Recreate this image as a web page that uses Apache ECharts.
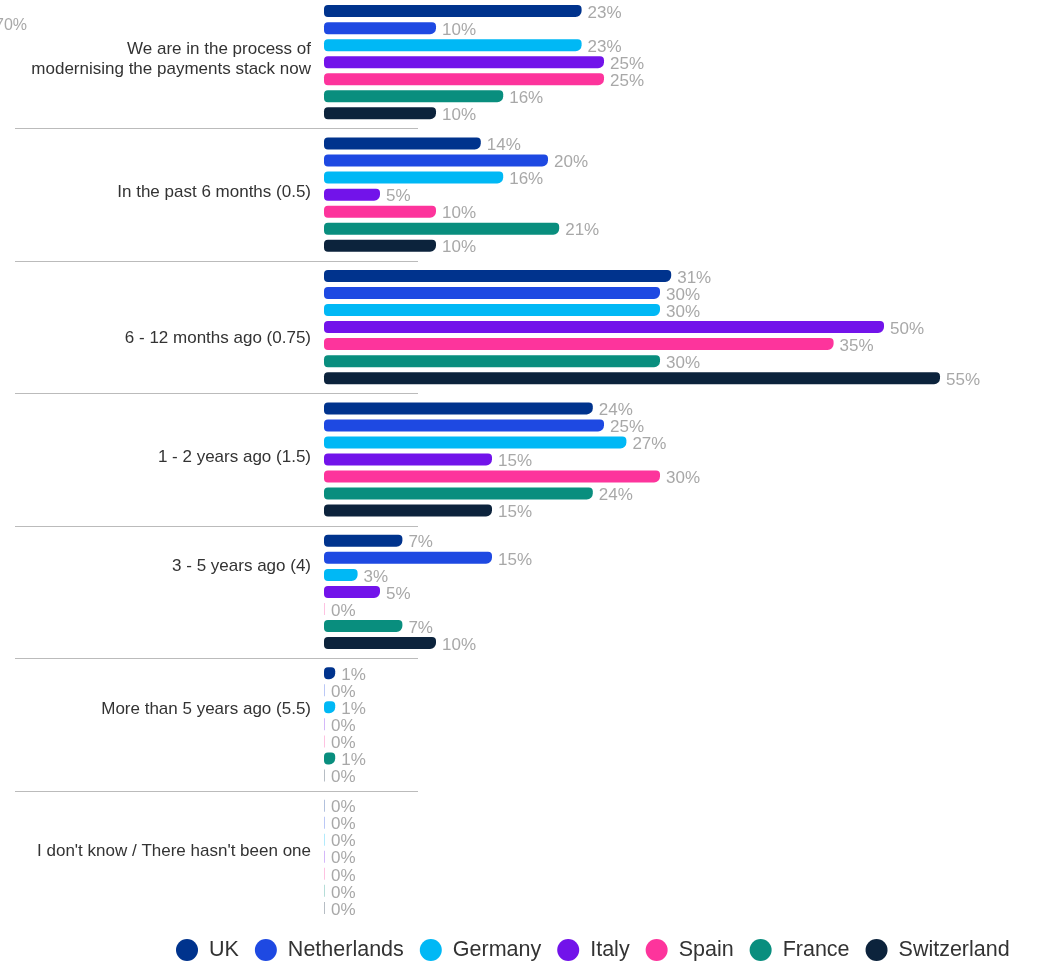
<!DOCTYPE html>
<html>
<head>
<meta charset="utf-8">
<script src="https://cdn.jsdelivr.net/npm/echarts@6/dist/echarts.min.js"></script>
<style>
  html, body { margin: 0; padding: 0; background: #ffffff; }
  #chart { width: 1040px; height: 963px; }
</style>
</head>
<body>
<div id="chart"></div>
<script>
// ---- Data ----
const categories = [
  "We are in the process of\nmodernising the payments stack now",
  "In the past 6 months (0.5)",
  "6 - 12 months ago (0.75)",
  "1 - 2 years ago (1.5)",
  "3 - 5 years ago (4)",
  "More than 5 years ago (5.5)",
  "I don't know / There hasn't been one"
];
const seriesNames = ["UK", "Netherlands", "Germany", "Italy", "Spain", "France", "Switzerland"];
const ukValues          = [23, 14, 31, 24, 7, 1, 0];
const netherlandsValues = [10, 20, 30, 25, 15, 0, 0];
const germanyValues     = [23, 16, 30, 27, 3, 1, 0];
const italyValues       = [25, 5, 50, 15, 5, 0, 0];
// Spain's 6-12 months bar is drawn longer than its printed label in the source
const spainValues       = [25, 10, 45.5, 30, 0, 0, 0];
const spainPrinted      = [25, 10, 35, 30, 0, 0, 0];
const franceValues      = [16, 21, 30, 24, 7, 1, 0];
const switzerlandValues = [10, 10, 55, 15, 10, 0, 0];
const strayAxisLabel = "70%";

const seriesValues = [ukValues, netherlandsValues, germanyValues, italyValues, spainValues, franceValues, switzerlandValues];
const printedValues = [ukValues, netherlandsValues, germanyValues, italyValues, spainPrinted, franceValues, switzerlandValues];

// ---- Styles ----
const colors = ["#00338D", "#1E49E2", "#00B8F5", "#7213EA", "#FD349C", "#098E7E", "#0C233C"];
const FONT = "'Liberation Sans', Arial, sans-serif";
// vertical nudges of the category labels as placed in the source
const labelShift = [-3, -2, 11, -2, -26, -15, -5];

function fade(hex, a) {
  const n = parseInt(hex.slice(1), 16);
  return 'rgba(' + ((n >> 16) & 255) + ',' + ((n >> 8) & 255) + ',' + (n & 255) + ',' + a + ')';
}

const chart = echarts.init(document.getElementById('chart'), null, { renderer: 'canvas' });

const series = seriesNames.map((name, si) => ({
  name: name,
  type: 'bar',
  barWidth: 12,
  barGap: '42%',
  barMinHeight: 1,
  itemStyle: { color: colors[si], borderRadius: [4, 4, 6, 4] },
  label: {
    show: true,
    position: 'right',
    distance: 6,
    offset: [0, 2],
    color: '#A8A8A8',
    fontSize: 17,
    fontFamily: FONT,
    formatter: p => printedValues[si][p.dataIndex] + '%'
  },
  data: seriesValues[si].map(v => v === 0
    ? { value: v, itemStyle: { color: fade(colors[si], 0.3), borderRadius: 0 } }
    : { value: v })
}));

const option = {
  animation: false,
  backgroundColor: '#ffffff',
  color: colors,
  grid: { left: 324, top: -4, width: 672, height: 927, containLabel: false, outerBoundsMode: 'none' },
  xAxis: {
    type: 'value', min: 0, max: 60,
    show: false
  },
  yAxis: {
    type: 'category',
    inverse: true,
    data: categories,
    axisLine: { show: false },
    axisTick: { show: false },
    splitLine: { show: false },
    axisLabel: { show: false }
  },
  legend: {
    data: seriesNames,
    left: 171,
    top: 934,
    icon: 'circle',
    itemWidth: 34,
    itemHeight: 22,
    itemGap: 16,
    textStyle: { color: '#333333', fontSize: 21.5, fontFamily: FONT }
  },
  series: series
};

chart.setOption(option);

// separators and category labels, placed from the category axis scale
const centers = categories.map((c, i) => chart.convertToPixel({ yAxisIndex: 0 }, i));
const gfx = [];
for (let i = 0; i < centers.length - 1; i++) {
  const y = Math.round((centers[i] + centers[i + 1]) / 2) + 0.5;
  gfx.push({
    type: 'line',
    shape: { x1: 15, y1: y, x2: 418, y2: y },
    style: { stroke: '#BBBBBB', lineWidth: 1 },
    silent: true
  });
}
categories.forEach((c, i) => {
  gfx.push({
    type: 'text',
    x: 311,
    y: centers[i] + labelShift[i],
    style: {
      text: c, fill: '#333333', fontSize: 17, lineHeight: 20, fontFamily: FONT,
      align: 'right', verticalAlign: 'middle'
    },
    silent: true
  });
});
gfx.push({
  type: 'text',
  x: 27, y: 26,
  style: { text: strayAxisLabel, fill: '#A8A8A8', fontSize: 16, fontFamily: FONT, align: 'right', verticalAlign: 'middle' }
});
chart.setOption({ graphic: gfx });
</script>
</body>
</html>
